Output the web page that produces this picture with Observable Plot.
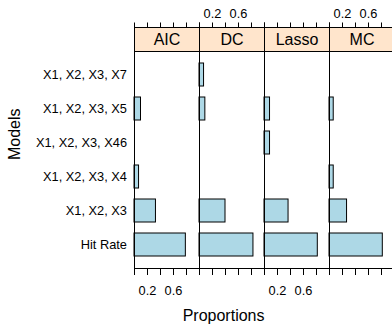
<!DOCTYPE html>
<html>
<head>
<meta charset="utf-8">
<script src="https://cdn.jsdelivr.net/npm/d3@7"></script>
<script src="https://cdn.jsdelivr.net/npm/@observablehq/plot@0.6"></script>
<style>
  html, body { margin: 0; padding: 0; background: white; overflow: hidden; }
  #chart { width: 392px; height: 324px; overflow: hidden; }
</style>
</head>
<body>
<div id="chart"></div>
<script>
const methods = ["AIC", "DC", "Lasso", "MC"];
const models = ["X1, X2, X3, X7", "X1, X2, X3, X5", "X1, X2, X3, X46", "X1, X2, X3, X4", "X1, X2, X3", "Hit Rate"];
const aicValues   = [0,     0.10,  0,     0.07,  0.33, 0.79];
const dcValues    = [0.07,  0.09,  0,     0,     0.40, 0.83];
const lassoValues = [0,     0.085, 0.085, 0,     0.37, 0.82];
const mcValues    = [0,     0.065, 0,     0.065, 0.27, 0.82];
const tickValues = [0, 0.2, 0.4, 0.6, 0.8, 1];
const labelValues = [0.2, 0.6];
const bottomLabelPanels = ["AIC", "Lasso"];
const topLabelPanels = ["DC", "MC"];
const xTitle = "Proportions";
const yTitle = "Models";

const series = {AIC: aicValues, DC: dcValues, Lasso: lassoValues, MC: mcValues};
const rows = [];
for (const m of methods) {
  series[m].forEach((v, i) => { if (v > 0) rows.push({method: m, model: models[i], value: v}); });
}
const bottomLabels = bottomLabelPanels.flatMap(p => labelValues.map(v => ({p, v})));
const topLabels = topLabelPanels.flatMap(p => labelValues.map(v => ({p, v})));

const chart = Plot.plot({
  width: 392,
  height: 324,
  marginLeft: 134,
  marginRight: -2,
  marginTop: 51,
  marginBottom: 56,
  style: {fontFamily: "'Liberation Sans', Arial, sans-serif", fontSize: "12.8px", background: "white", color: "black", overflow: "visible"},
  fx: {domain: methods, padding: 0, axis: null},
  x: {domain: [0, 1], axis: null},
  y: {domain: models, paddingInner: 1/3, paddingOuter: 0.267, axis: null},
  marks: [
    Plot.barX(rows, {fx: "method", y: "model", x: "value", fill: "#add8e6", stroke: "black", strokeWidth: 1}),
    Plot.frame({stroke: "black"}),
    Plot.frame({fill: "#ffe5cc", stroke: "black", insetTop: -24, insetBottom: 217}),
    Plot.text(methods, {fx: d => d, text: d => d, frameAnchor: "top", lineAnchor: "middle", dy: -12, fontSize: 16}),
    Plot.tickX(tickValues, {x: d => d, stroke: "black", insetTop: 217, insetBottom: -7}),
    Plot.tickX(tickValues, {x: d => d, stroke: "black", insetTop: -28.5, insetBottom: 241}),
    Plot.text(bottomLabels, {fx: "p", x: "v", text: d => d3.format(".1f")(d.v), frameAnchor: "bottom", lineAnchor: "middle", dy: 22, fontSize: 12.8}),
    Plot.text(topLabels, {fx: "p", x: "v", text: d => d3.format(".1f")(d.v), frameAnchor: "top", lineAnchor: "middle", dy: -38, fontSize: 12.8}),
    Plot.axisY({tickSize: 0, tickPadding: 7.5, fontSize: 12.8, label: null}),
    Plot.text([yTitle], {fx: ["AIC"], text: d => d, frameAnchor: "left", lineAnchor: "middle", dx: -120, rotate: -90, fontSize: 16}),
    Plot.text([xTitle], {fx: ["DC"], text: d => d, frameAnchor: "bottom-right", lineAnchor: "middle", dy: 47, fontSize: 16})
  ]
});
document.getElementById("chart").appendChild(chart);
</script>
</body>
</html>
